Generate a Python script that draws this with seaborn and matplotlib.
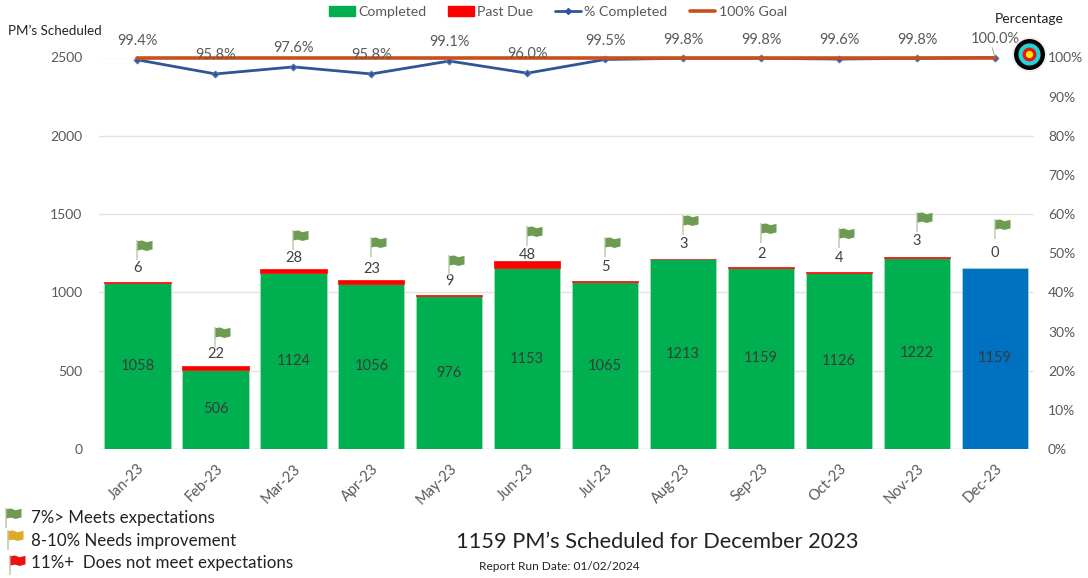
import matplotlib
matplotlib.use("Agg")
import matplotlib.pyplot as plt
import seaborn as sns
import pandas as pd
from matplotlib.path import Path
from matplotlib.lines import Line2D
from matplotlib.patches import Patch
from matplotlib.ticker import PercentFormatter

months = ["Jan-23","Feb-23","Mar-23","Apr-23","May-23","Jun-23","Jul-23","Aug-23","Sep-23","Oct-23","Nov-23","Dec-23"]
completed = [1058,506,1124,1056,976,1153,1065,1213,1159,1126,1222,1159]
past_due = [6,22,28,23,9,48,5,3,2,4,3,0]
pct_completed = [99.4,95.8,97.6,95.8,99.1,96.0,99.5,99.8,99.8,99.6,99.8,100.0]
goal = [100.0]*12
label_level = [1157,607,1220,1150,1073,1240,1163,1310,1246,1220,1329,1252]
flag_level = [1272,716,1336,1291,1176,1361,1291,1431,1380,1348,1450,1406]
bar_colors = ["#00B050"]*11 + ["#0070C0"]

sns.set_theme(style="white")
FONT = ["Lato", "DejaVu Sans"]
plt.rcParams["font.family"] = FONT
GREY = "#595959"

W, H = 1088, 578
fig = plt.figure(figsize=(W/100, H/100), dpi=100)
ax = fig.add_axes([98.5/W, (H-449)/H, (1034-98.5)/W, (449-57.5)/H])

df = pd.DataFrame({"month": months, "completed": completed, "past": past_due, "pct": pct_completed, "goal": goal})
df["total"] = df.completed + df.past

sns.barplot(data=df, x="month", y="completed", hue="month", palette=bar_colors, legend=False,
            width=0.85, ax=ax, edgecolor="#A8DDBB", linewidth=0.6, zorder=2)
for p, c in zip(ax.patches[:12], bar_colors):
    p.set_facecolor(c)
shown = df[df.past > 0]
ax.bar(shown.index, shown.past, bottom=shown.completed, width=0.85, color="#FF0000",
       edgecolor="#FF0000", linewidth=0.5, zorder=3)

ax.set_xlim(-0.5, 11.5)
ax.set_ylim(0, 2500)
ax.set_yticks(range(0, 2501, 500))
ax.set_xlabel(""); ax.set_ylabel("")
ax.grid(axis="y", color="#E2E2E2", lw=1)
ax.set_axisbelow(True)
sns.despine(ax=ax, left=True, right=True, top=True, bottom=True)
ax.axhline(0, color="#D9D9D9", lw=1, zorder=1)
ax.tick_params(axis="y", labelsize=10, labelcolor=GREY, length=0, pad=11.5)
ax.tick_params(axis="x", labelsize=10.5, labelcolor=GREY, length=0, pad=9)
for t in ax.get_xticklabels():
    t.set_rotation(45); t.set_ha("right"); t.set_rotation_mode("anchor")

# values inside and above the bars
for i, row in df.iterrows():
    ax.text(i, row.completed/2, str(row.completed), ha="center", va="center", fontsize=10.5, color="#3A3A3A", zorder=5)
    ax.text(i, label_level[i], str(row.past), ha="center", va="center", fontsize=10.5, color="#404040", zorder=5)

# flags
pole = Path([(1,0),(0,0.66),(0,-0.66)], [Path.MOVETO, Path.MOVETO, Path.LINETO])
banner = Path([(1,0),(0,0.62),(0.3,0.67),(0.6,0.55),(1,0.64),(1,0.07),(0.6,-0.03),(0.3,0.06),(0,0.0),(0,0.62)],
              [Path.MOVETO,Path.MOVETO]+[Path.LINETO]*7+[Path.CLOSEPOLY])
ax.scatter(range(12), flag_level, marker=pole, s=467, facecolors="none", edgecolors="#C5D6BA", linewidths=1.3, zorder=6)
ax.scatter(range(12), flag_level, marker=banner, s=467, color="#6C9B51", linewidths=0, zorder=6)

# percentage axis
ax2 = ax.twinx()
ax2.set_ylim(0, 100)
ax2.set_yticks(range(0, 101, 10))
ax2.yaxis.set_major_formatter(PercentFormatter(100, decimals=0))
ax2.tick_params(axis="y", labelsize=10, labelcolor=GREY, length=0, pad=10)
ax2.grid(False)
sns.despine(ax=ax2, left=True, right=True, top=True, bottom=True)
xs = list(range(12))
sns.lineplot(x=xs, y=df.pct, ax=ax2, color="#2F5597", lw=2, marker="D", ms=3.5, mec="#5B7DB8", zorder=3, clip_on=False)
sns.lineplot(x=xs, y=df.goal, ax=ax2, color="#C9501C", lw=2.6, zorder=4, clip_on=False)
ax2.set_xlim(-0.5, 11.5); ax2.set_ylabel("")
for i, v in enumerate(pct_completed):
    ax2.annotate(f"{v:.1f}%", (i, v), xytext=(0, 13.5), textcoords="offset points", ha="center", va="center",
                 fontsize=10.5, color=GREY, zorder=5, annotation_clip=False)
ax2.annotate("", (11, 100), xytext=(-2, 7), textcoords="offset points",
             arrowprops=dict(arrowstyle="-", color="#A6A6A6", lw=0.7, shrinkA=0, shrinkB=0), annotation_clip=False)

# target
target_x = 11.44
for size, col in zip([635, 497, 255, 100, 27], ["#F0F0F0", "#000000", "#22D3DC", "#EE1111", "#FFEE00"]):
    ax2.scatter([target_x], [100.9], s=size, color=col, linewidths=0, zorder=8, clip_on=False)

# top legend
handles = [Patch(color="#00B050"), Patch(color="#FF0000"),
           Line2D([], [], color="#2F5597", lw=2, marker="D", ms=3),
           Line2D([], [], color="#C9501C", lw=2.6)]
fig.legend(handles, ["Completed", "Past Due", "% Completed", "100% Goal"], ncol=4, frameon=False,
           loc="center", bbox_to_anchor=(558/W, 1-12/H), fontsize=10.2, labelcolor=GREY,
           handlelength=1.8, handleheight=0.7, handletextpad=0.25, columnspacing=1.55, borderpad=0)

# free texts
fig.text(8/W, 1-31/H, "PM\u2019s Scheduled", fontsize=9.6, color="#222222", va="center")
fig.text(1029/W, 1-19/H, "Percentage", fontsize=10, color="#222222", va="center", ha="center")
fig.text(657/W, 1-541.5/H, "1159 PM\u2019s Scheduled for December 2023", fontsize=15.7, color="#222222", va="center", ha="center")
fig.text(479/W, 1-566/H, "Report Run Date: 01/02/2024", fontsize=8.6, color="#222222", va="center")
key_labels = ["7%> Meets expectations", "8-10% Needs improvement", "11%+  Does not meet expectations"]
key_colors = ["#6C9B51", "#DDA92B", "#EE1111"]
key_y = [518, 541, 563]
key_flag_y = [517.5, 540, 565]
key_x = [6, 8, 10]
for lab, col, y, fy, x in zip(key_labels, key_colors, key_y, key_flag_y, key_x):
    fig.text(31/W, 1-y/H, lab, fontsize=12.2, color="#222222", va="center")
    fig.add_artist(Line2D([x/W], [1-fy/H], transform=fig.transFigure, marker=pole, ms=21.6, mfc="none", mec="#C8C8B8", mew=1.2))
    fig.add_artist(Line2D([x/W], [1-fy/H], transform=fig.transFigure, marker=banner, ms=21.6, color=col, mew=0))

fig.savefig("out.png", dpi=100)
